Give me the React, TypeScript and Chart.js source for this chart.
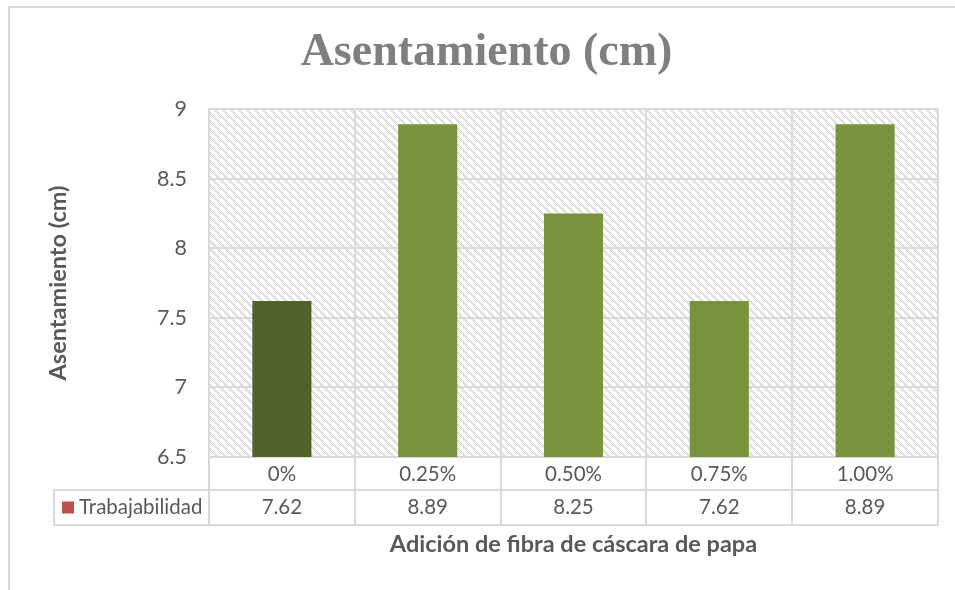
import React, { useEffect, useRef } from "react";
import { Chart, registerables } from "chart.js";

Chart.register(...registerables);

// ---- data ----
const categories = ["0%", "0.25%", "0.50%", "0.75%", "1.00%"];
const seriesName = "Trabajabilidad";
const values = [7.62, 8.89, 8.25, 7.62, 8.89];
const valueLabels = ["7.62", "8.89", "8.25", "7.62", "8.89"];
const barColors = ["#4f6228", "#77933c", "#77933c", "#77933c", "#77933c"];
const legendColor = "#c0504d";
const yMin = 6.5;
const yMax = 9;
const yStep = 0.5;
const chartTitle = "Asentamiento (cm)";
const yTitle = "Asentamiento (cm)";
const xTitle = "Adición de fibra de cáscara de papa";

// ---- style ----
const GRID = "#d9d9d9";
const TEXT = "#595959";
const SANS = "Lato, 'Open Sans', sans-serif";

function makePattern(ctx: CanvasRenderingContext2D) {
  const c = document.createElement("canvas");
  c.width = 8;
  c.height = 8;
  const g = c.getContext("2d")!;
  const img = g.createImageData(8, 8);
  for (let y = 0; y < 8; y++) {
    for (let x = 0; x < 8; x++) {
      const i = (y * 8 + x) * 4;
      const d = (((x - y) % 8) + 8) % 8;
      const v = d < 3 ? ((x + y) % 2 === 0 ? 214 : 234) : 255;
      img.data[i] = v;
      img.data[i + 1] = v;
      img.data[i + 2] = v;
      img.data[i + 3] = 255;
    }
  }
  g.putImageData(img, 0, 0);
  return ctx.createPattern(c, "repeat")!;
}

const tablePlugin = {
  id: "dataTable",
  beforeDraw(chart: any) {
    const { ctx, chartArea: a } = chart;
    ctx.save();
    ctx.fillStyle = "#ffffff";
    ctx.fillRect(0, 0, chart.width, chart.height);
    // outer chart frame
    ctx.fillStyle = GRID;
    ctx.fillRect(8, 6, chart.width - 8, 2);
    ctx.fillRect(8, 6, 2, chart.height - 6);
    // hatched plot background
    ctx.fillStyle = makePattern(ctx);
    ctx.fillRect(a.left, a.top, a.right - a.left, a.bottom - a.top);
    ctx.restore();
  },
  afterDraw(chart: any) {
    const { ctx, chartArea: a } = chart;
    const xs = chart.scales.x;
    const labels = chart.data.labels as string[];
    const n = labels.length;
    const step = n > 1 ? xs.getPixelForValue(1) - xs.getPixelForValue(0) : a.right - a.left;
    const row1Bottom = a.bottom + 33;
    const row2Bottom = a.bottom + 68;
    const legendLeft = 54;

    ctx.save();
    ctx.strokeStyle = GRID;
    ctx.lineWidth = 2;
    ctx.beginPath();
    for (let i = 0; i <= n; i++) {
      const bx = Math.round(xs.getPixelForValue(0) - step / 2 + i * step);
      ctx.moveTo(bx, a.bottom);
      ctx.lineTo(bx, row2Bottom);
    }
    ctx.moveTo(legendLeft, row1Bottom);
    ctx.lineTo(a.right + 1, row1Bottom);
    ctx.moveTo(legendLeft, row2Bottom);
    ctx.lineTo(a.right + 1, row2Bottom);
    ctx.moveTo(legendLeft, row1Bottom - 1);
    ctx.lineTo(legendLeft, row2Bottom + 1);
    ctx.stroke();

    const midY = (row1Bottom + row2Bottom) / 2;
    ctx.fillStyle = TEXT;
    ctx.font = `20.5px ${SANS}`;
    ctx.textBaseline = "middle";
    ctx.textAlign = "center";
    const ds = chart.data.datasets[0];
    for (let i = 0; i < n; i++) {
      ctx.fillText(valueLabels[i], xs.getPixelForValue(i), midY);
    }
    // legend key
    ctx.fillStyle = legendColor;
    ctx.fillRect(62, midY - 6, 12, 12);
    ctx.fillStyle = TEXT;
    ctx.textAlign = "left";
    ctx.fillText(ds.label, 79, midY);
    ctx.restore();
  },
};

export default function App() {
  const ref = useRef<HTMLCanvasElement | null>(null);

  useEffect(() => {
    if (!ref.current) return;
    const chart = new Chart(ref.current, {
      type: "bar",
      data: {
        labels: categories,
        datasets: [
          {
            label: seriesName,
            data: values,
            backgroundColor: barColors,
            borderWidth: 0,
            barPercentage: 0.405,
            categoryPercentage: 1,
          },
        ],
      },
      options: {
        responsive: false,
        animation: false,
        devicePixelRatio: 1,
        layout: { padding: { left: 35, right: 17, top: 0, bottom: 0 } },
        plugins: {
          legend: { display: false },
          tooltip: { enabled: false },
          title: {
            display: true,
            text: chartTitle,
            color: "#7f7f7f",
            font: { family: "'Liberation Serif', serif", size: 46, weight: "bold", lineHeight: 1.2 },
            padding: { top: 26, bottom: 27.8 },
          },
        },
        scales: {
          x: {
            offset: true,
            grid: { offset: true, color: GRID, lineWidth: 2, drawTicks: false },
            border: { display: false },
            ticks: {
              color: TEXT,
              font: { family: SANS, size: 20.5 },
              padding: 5,
              maxRotation: 0,
              autoSkip: false,
            },
            title: {
              display: true,
              text: xTitle,
              color: TEXT,
              font: { family: SANS, size: 23.5, weight: "bold", lineHeight: 1.2 },
              padding: { top: 0, bottom: 31 },
            },
            afterFit: (s: any) => {
              s.height = 133;
            },
          },
          y: {
            min: yMin,
            max: yMax,
            ticks: {
              stepSize: yStep,
              color: TEXT,
              font: { family: SANS, size: 21.5 },
              padding: 22,
              callback: (v: any) => String(Number(v)),
            },
            grid: { color: GRID, lineWidth: 2, drawTicks: false },
            border: { display: true, color: GRID, width: 2 },
            title: {
              display: true,
              text: yTitle,
              color: TEXT,
              font: { family: SANS, size: 23.5, weight: "bold", lineHeight: 1.2 },
              padding: { top: 9, bottom: 0 },
            },
            afterFit: (s: any) => {
              s.width = 174;
            },
          },
        },
      } as any,
      plugins: [tablePlugin],
    });
    return () => chart.destroy();
  }, []);

  return (
    <div style={{ position: "absolute", left: 0, top: 0, width: 955, height: 590 }}>
      <canvas ref={ref} width={955} height={590} style={{ display: "block" }} />
    </div>
  );
}
